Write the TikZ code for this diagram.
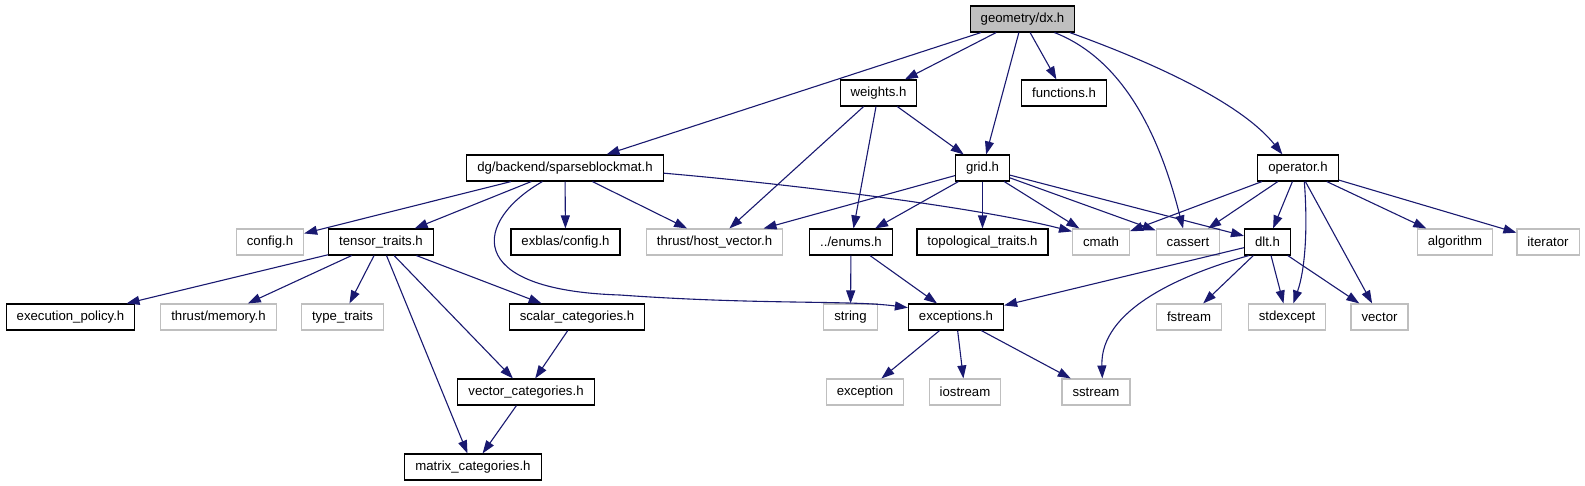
\documentclass[tikz,border=0pt]{standalone}
\usepackage{fontspec}
\setmainfont{Liberation Sans}
\usepackage{tikz}
\usetikzlibrary{arrows.meta}
\definecolor{edgec}{HTML}{191970}
\definecolor{greyc}{HTML}{BFBFBF}
\tikzset{
  ar/.style={-{Triangle[length=13pt,width=9pt]},line width=1.1pt,edgec},
  box/.style={draw=black,line width=1.1pt,fill=white,minimum height=26pt,inner xsep=10.5pt,inner ysep=0pt,font=\fontsize{13.2}{15}\selectfont},
  sysbox/.style={box,draw=greyc},
  rootbox/.style={box,fill=greyc}
}
\begin{document}
\begin{tikzpicture}[x=1pt,y=-1pt]
\useasboundingbox (0,0) rectangle (1585,485);
\node[rootbox] (dx) at (1022.5,19) {geometry/dx.h};
\node[box] (weights) at (878.5,93) {weights.h};
\node[box] (functions) at (1064,93) {functions.h};
\node[box] (sparse) at (565,168) {dg/backend/sparseblockmat.h};
\node[box] (grid) at (982.5,168) {grid.h};
\node[box] (operator) at (1298,168) {operator.h};
\node[sysbox] (config) at (270,242) {config.h};
\node[box] (tensor) at (381,242) {tensor\_traits.h};
\node[box] (exblas) at (565.5,242) {exblas/config.h};
\node[sysbox] (hostvec) at (714.5,242) {thrust/host\_vector.h};
\node[box] (enums) at (851,242) {../enums.h};
\node[box] (topo) at (982.5,242) {topological\_traits.h};
\node[sysbox] (cmath) at (1101,242) {cmath};
\node[sysbox] (cassert) at (1188,242) {cassert};
\node[box] (dlt) at (1267.5,242) {dlt.h};
\node[sysbox] (algorithm) at (1455,242) {algorithm};
\node[sysbox] (iterator) at (1548,242) {iterator};
\node[box] (execpol) at (70.5,317) {execution\_policy.h};
\node[sysbox] (thrmem) at (218.5,317) {thrust/memory.h};
\node[sysbox] (typetr) at (342.5,317) {type\_traits};
\node[box] (scalar) at (577,317) {scalar\_categories.h};
\node[sysbox] (string) at (850.5,317) {string};
\node[box] (exceptions) at (956,317) {exceptions.h};
\node[sysbox] (fstream) at (1189,317) {fstream};
\node[sysbox] (stdexcept) at (1287,317) {stdexcept};
\node[sysbox] (vector) at (1379.5,317) {vector};
\node[box] (veccat) at (526,392) {vector\_categories.h};
\node[sysbox] (exception) at (865,392) {exception};
\node[sysbox] (iostream) at (965,392) {iostream};
\node[sysbox] (sstream) at (1096,392) {sstream};
\node[box] (matcat) at (473,467) {matrix\_categories.h};
\draw[ar] (dx) -- (sparse);
\draw[ar] (dx) -- (weights);
\draw[ar] (dx) -- (grid);
\draw[ar] (dx) -- (functions);
\draw[ar] (dx.-23) .. controls (1130,62) and (1163,149) .. (cassert.110);
\draw[ar] (dx.-16) .. controls (1160,65) and (1243,105) .. (operator.139);
\draw[ar] (weights) -- (hostvec);
\draw[ar] (weights) -- (enums);
\draw[ar] (weights) -- (grid);
\draw[ar] (sparse) -- (config);
\draw[ar] (sparse) -- (tensor);
\draw[ar] (sparse.-149) .. controls (475,220) and (460,290) .. (620,295) .. controls (760,305) and (850,300) .. (exceptions.169);
\draw[ar] (sparse) -- (exblas);
\draw[ar] (sparse) -- (hostvec);
\draw[ar] (sparse.-3.5) .. controls (800,185) and (980,208) .. (cmath.160);
\draw[ar] (grid) -- (hostvec);
\draw[ar] (grid) -- (enums);
\draw[ar] (grid) -- (topo);
\draw[ar] (grid) -- (cmath);
\draw[ar] (grid) -- (cassert);
\draw[ar] (grid) -- (dlt);
\draw[ar] (operator) -- (cmath);
\draw[ar] (operator) -- (cassert);
\draw[ar] (operator) -- (dlt);
\draw[ar] (operator.-65) .. controls (1308,230) and (1305,270) .. (stdexcept.65);
\draw[ar] (operator) -- (vector);
\draw[ar] (operator) -- (algorithm);
\draw[ar] (operator) -- (iterator);
\draw[ar] (tensor) -- (execpol);
\draw[ar] (tensor) -- (thrmem);
\draw[ar] (tensor) -- (typetr);
\draw[ar] (tensor) -- (matcat);
\draw[ar] (tensor) -- (veccat);
\draw[ar] (tensor) -- (scalar);
\draw[ar] (enums) -- (string);
\draw[ar] (enums) -- (exceptions);
\draw[ar] (dlt) -- (exceptions);
\draw[ar] (dlt.-144) .. controls (1180,275) and (1100,310) .. (sstream.65);
\draw[ar] (dlt) -- (fstream);
\draw[ar] (dlt) -- (stdexcept);
\draw[ar] (dlt) -- (vector);
\draw[ar] (scalar) -- (veccat);
\draw[ar] (veccat) -- (matcat);
\draw[ar] (exceptions) -- (exception);
\draw[ar] (exceptions) -- (iostream);
\draw[ar] (exceptions) -- (sstream);
\end{tikzpicture}
\end{document}
